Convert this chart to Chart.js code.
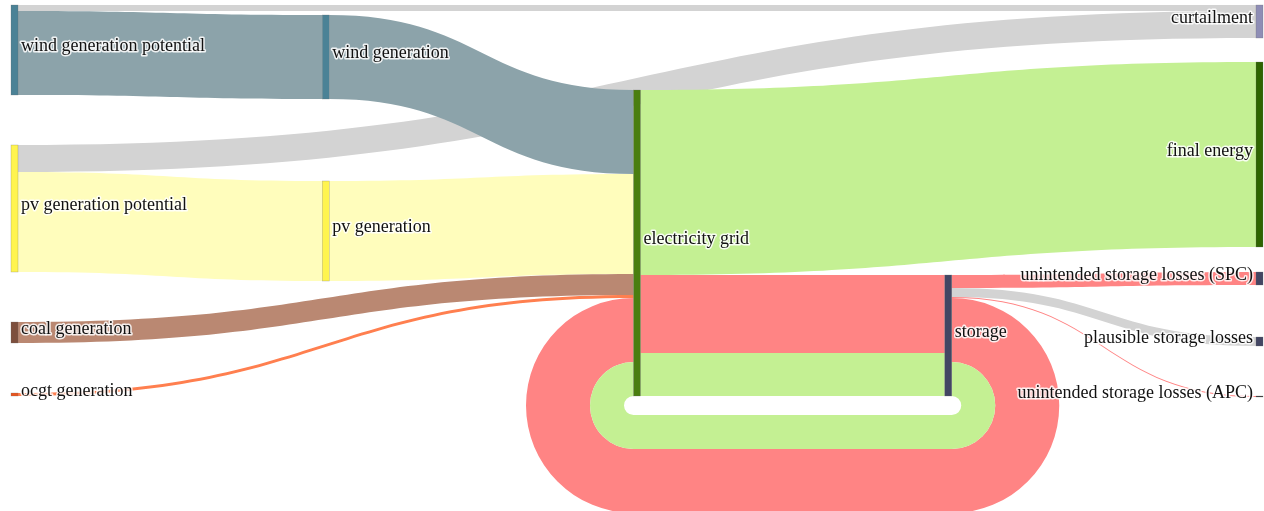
<!DOCTYPE html>
<html>
<head>
<meta charset="utf-8">
<title>Energy flows</title>
<script src="https://cdn.jsdelivr.net/npm/chart.js@4.4.1/dist/chart.umd.min.js"></script>
<style>
  html, body { margin: 0; padding: 0; background: #fff; }
  #wrap { position: relative; width: 1264px; height: 511px; }
</style>
</head>
<body>
<div id="wrap"><canvas id="sankey"></canvas></div>
<script>
// ----- Data -----
const nodeLabels = [
  "wind generation potential",
  "pv generation potential",
  "coal generation",
  "ocgt generation",
  "wind generation",
  "pv generation",
  "electricity grid",
  "storage",
  "curtailment",
  "final energy",
  "unintended storage losses (SPC)",
  "plausible storage losses",
  "unintended storage losses (APC)"
];
const nodeColumns = [0, 0, 0, 0, 1, 1, 2, 3, 4, 4, 4, 4, 4];

const linkSources = [0, 0, 1, 1, 4, 5, 2, 3, 6, 6, 6, 7, 7, 7, 7, 7];
const linkTargets = [8, 4, 8, 5, 6, 6, 6, 6, 9, 7, 7, 10, 11, 12, 6, 6];
const linkValues = [6, 84, 27, 100, 84, 100, 21, 3, 185, 78, 43, 13, 9, 1, 64, 34];

// ----- Layout & style -----
const NODE_WIDTH = 7;
const LOOP_HOLE = 9.5; // radius of the empty space inside the storage loop (px)
// free space above each node inside its column (energy units)
const nodeGap = [0, 50, 50, 50, 10, 82, 85, 270, 0, 24, 25, 52, 50];

const nodeColors = [
  "#4b8296", "#fff44f", "#7d4f3d", "#e8551f",
  "#4b8296", "#fff44f", "#4a7e10", "#434663",
  "#8e8db5", "#2e6400", "#434663", "#434663", "#333333"
];
const GRAY = "#d3d3d3", WIND = "#8ca3aa", PV = "#fffdbc", COAL = "#ba8872",
      OCGT = "#ff7f4f", GREEN = "#c4f093", RED = "#ff8484";
const linkColors = [GRAY, WIND, GRAY, PV, WIND, PV, COAL, OCGT, GREEN, RED, GREEN, RED, GRAY, RED, RED, GREEN];

// ----- Sankey layout (in energy units) -----
function computeLayout() {
  const n = nodeLabels.length;
  const inSum = new Array(n).fill(0);
  const outSum = new Array(n).fill(0);
  linkValues.forEach((v, i) => {
    outSum[linkSources[i]] += v;
    inSum[linkTargets[i]] += v;
  });

  const nodes = nodeLabels.map((label, i) => ({
    label, col: nodeColumns[i], value: Math.max(inSum[i], outSum[i]), top: 0
  }));

  // stack every column from the top
  const colBottom = {};
  nodes.forEach((node, i) => {
    const start = colBottom[node.col] || 0;
    node.top = start + nodeGap[i];
    colBottom[node.col] = node.top + node.value;
  });

  // link ends, stacked in link order at each node
  const outOff = new Array(n).fill(0);
  const inOff = new Array(n).fill(0);
  const links = linkValues.map((v, i) => {
    const s = linkSources[i], t = linkTargets[i];
    const link = {
      source: s, target: t, value: v, color: linkColors[i],
      sy: nodes[s].top + outOff[s],
      ty: nodes[t].top + inOff[t]
    };
    outOff[s] += v;
    inOff[t] += v;
    return link;
  });

  return { nodes, links };
}

// ----- Drawing -----
function drawForwardLink(ctx, x0, x1, y0, y1, w) {
  const xm = (x0 + x1) / 2;
  ctx.beginPath();
  ctx.moveTo(x0, y0);
  ctx.bezierCurveTo(xm, y0, xm, y1, x1, y1);
  ctx.lineTo(x1, y1 + w);
  ctx.bezierCurveTo(xm, y1 + w, xm, y0 + w, x0, y0 + w);
  ctx.closePath();
  ctx.fill();
}

function drawLoopLink(ctx, xs, xt, ys, yt, w, cy) {
  const rOutS = cy - ys, rInS = cy - ys - w;
  const rOutT = cy - yt, rInT = cy - yt - w;
  ctx.beginPath();
  ctx.moveTo(xs, ys);
  ctx.arc(xs, cy, rOutS, -Math.PI / 2, Math.PI / 2, false);
  ctx.lineTo(xt, cy + rOutT);
  ctx.arc(xt, cy, rOutT, Math.PI / 2, Math.PI * 1.5, false);
  ctx.lineTo(xt, cy - rInT);
  ctx.arc(xt, cy, rInT, Math.PI * 1.5, Math.PI / 2, true);
  ctx.lineTo(xs, cy + rInS);
  ctx.arc(xs, cy, rInS, Math.PI / 2, -Math.PI / 2, true);
  ctx.closePath();
  ctx.fill();
}

const sankeyPlugin = {
  id: "sankey",
  afterDraw(chart) {
    const ctx = chart.ctx;
    const xScale = chart.scales.x, yScale = chart.scales.y;
    const { nodes, links } = computeLayout();
    const px = col => xScale.getPixelForValue(col);
    const py = v => yScale.getPixelForValue(v);

    ctx.save();

    // links
    links.forEach(l => {
      const src = nodes[l.source], tgt = nodes[l.target];
      const w = py(l.sy + l.value) - py(l.sy);
      ctx.fillStyle = l.color;
      if (tgt.col > src.col) {
        drawForwardLink(ctx, px(src.col) + NODE_WIDTH, px(tgt.col), py(l.sy), py(l.ty), w);
      } else {
        const bottom = Math.max(src.top + src.value, tgt.top + tgt.value);
        drawLoopLink(ctx, px(src.col) + NODE_WIDTH, px(tgt.col), py(l.sy), py(l.ty), w, py(bottom) + LOOP_HOLE);
      }
    });

    // nodes
    nodes.forEach((node, i) => {
      const y0 = py(node.top), y1 = py(node.top + node.value);
      ctx.fillStyle = nodeColors[i];
      ctx.fillRect(px(node.col), y0, NODE_WIDTH, Math.max(1, y1 - y0));
      ctx.strokeStyle = "rgba(110,110,110,0.5)";
      ctx.lineWidth = 0.5;
      ctx.strokeRect(px(node.col), y0, NODE_WIDTH, Math.max(1, y1 - y0));
    });

    // labels
    ctx.font = '18px "Liberation Serif", "Times New Roman", serif';
    ctx.textBaseline = "alphabetic";
    ctx.lineJoin = "round";
    const lastCol = Math.max(...nodeColumns);
    nodes.forEach(node => {
      const yc = py(node.top + node.value / 2) + 1;
      let x;
      if (node.col === lastCol) {
        ctx.textAlign = "right";
        x = px(node.col) - 3;
      } else {
        ctx.textAlign = "left";
        x = px(node.col) + NODE_WIDTH + 3;
      }
      ctx.strokeStyle = "rgba(255,255,255,0.85)";
      ctx.lineWidth = 3;
      ctx.strokeText(node.label, x, yc);
      ctx.fillStyle = "#111111";
      ctx.fillText(node.label, x, yc);
    });

    ctx.restore();
  }
};

// ----- Chart -----
new Chart(document.getElementById("sankey"), {
  type: "scatter",
  data: { datasets: [] },
  options: {
    responsive: true,
    maintainAspectRatio: false,
    animation: false,
    layout: { padding: { left: 11, right: 8, top: 5, bottom: 0 } },
    plugins: { legend: { display: false }, tooltip: { enabled: false } },
    scales: {
      x: { type: "linear", min: 0, max: 4, display: false },
      y: { type: "linear", min: 0, max: 506, reverse: true, display: false }
    }
  },
  plugins: [sankeyPlugin]
});
</script>
</body>
</html>
